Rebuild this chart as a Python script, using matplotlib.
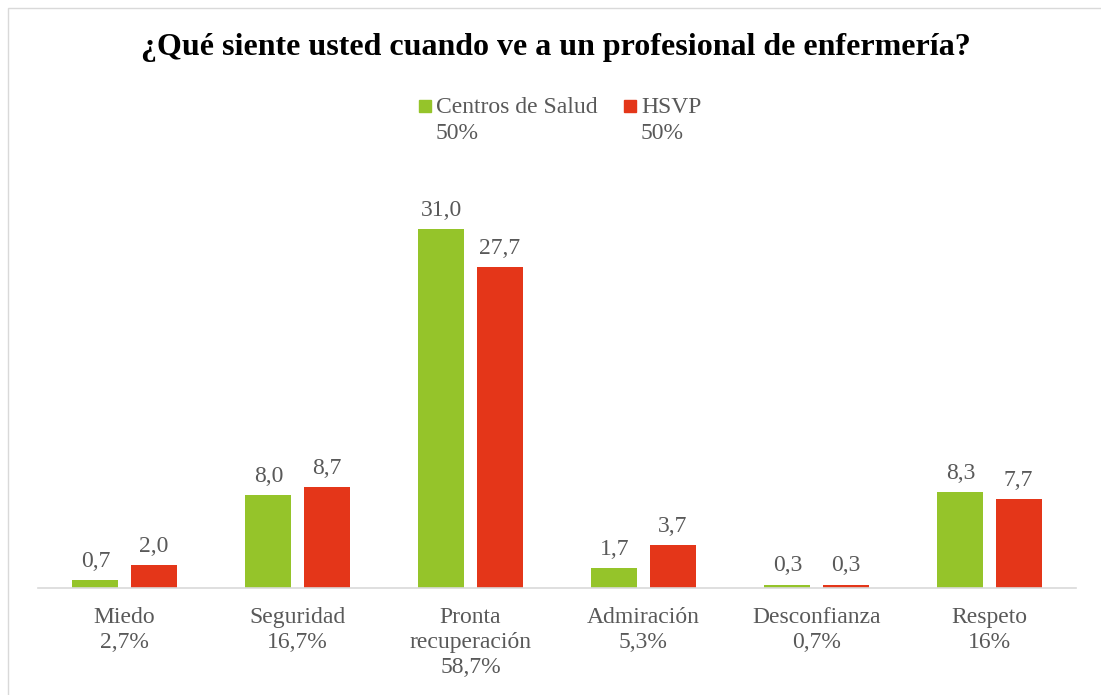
import numpy as np
import matplotlib
matplotlib.use("Agg")
import matplotlib.pyplot as plt
from matplotlib.patches import Rectangle

plt.rcParams['font.family'] = ['Liberation Serif', 'DejaVu Serif']

categorias = ["Miedo\n2,7%", "Seguridad\n16,7%", "Pronta\nrecuperación\n58,7%",
              "Admiración\n5,3%", "Desconfianza\n0,7%", "Respeto\n16%"]
centros = [0.7, 8.0, 31.0, 1.7, 0.3, 8.3]
hsvp = [2.0, 8.7, 27.7, 3.7, 0.3, 7.7]
leyenda = ["Centros de Salud\n50%", "HSVP\n50%"]

verde = '#95C42A'
rojo = '#E43619'
gris = '#595959'

W, H = 1101, 695
fig = plt.figure(figsize=(W / 100, H / 100), dpi=100)

# axes placed in pixel terms
x0, x1, yb, yt = 38, 1076, 588, 165
ax = fig.add_axes([x0 / W, 1 - yb / H, (x1 - x0) / W, (yb - yt) / H])

x = np.arange(len(categorias))
bw = 0.266
off = 0.168
b1 = ax.bar(x - off, centros, bw, color=verde)
b2 = ax.bar(x + off, hsvp, bw, color=rojo)

for bars, vals in ((b1, centros), (b2, hsvp)):
    for b, v in zip(bars, vals):
        ax.annotate(f"{v:.1f}".replace('.', ','),
                    (b.get_x() + b.get_width() / 2, v),
                    xytext=(0, 6), textcoords='offset points',
                    ha='center', va='bottom', fontsize=17, color=gris)

ax.set_xlim(-0.5, len(categorias) - 0.5)
ax.set_ylim(0, (yb - yt) / 11.58)
ax.set_xticks(x)
ax.set_xticklabels(categorias, fontsize=17, color=gris, linespacing=1.25)
ax.tick_params(axis='x', length=0, pad=14)
ax.set_yticks([])
for s in ['top', 'right', 'left']:
    ax.spines[s].set_visible(False)
ax.spines['bottom'].set_color('#D9D9D9')
ax.spines['bottom'].set_linewidth(1.2)

fig.text(556 / W, 1 - 48 / H, "¿Qué siente usted cuando ve a un profesional de enfermería?",
         ha='center', va='center', fontsize=23, fontweight='bold', color='black')

# legend
for (sx, lab, c) in ((419, leyenda[0], verde), (624, leyenda[1], rojo)):
    fig.add_artist(Rectangle((sx / W, 1 - 112 / H), 12 / W, 12 / H,
                             transform=fig.transFigure, color=c))
    fig.text((sx + 17) / W, 1 - 97 / H, lab, ha='left', va='top',
             fontsize=17, color=gris, linespacing=1.3)

# chart border
fig.add_artist(Rectangle((8 / W, -0.05), 1.2, 1 - 8 / H + 0.05,
                         transform=fig.transFigure, fill=False,
                         edgecolor='#D9D9D9', linewidth=1))

fig.savefig("out.png", dpi=100)
